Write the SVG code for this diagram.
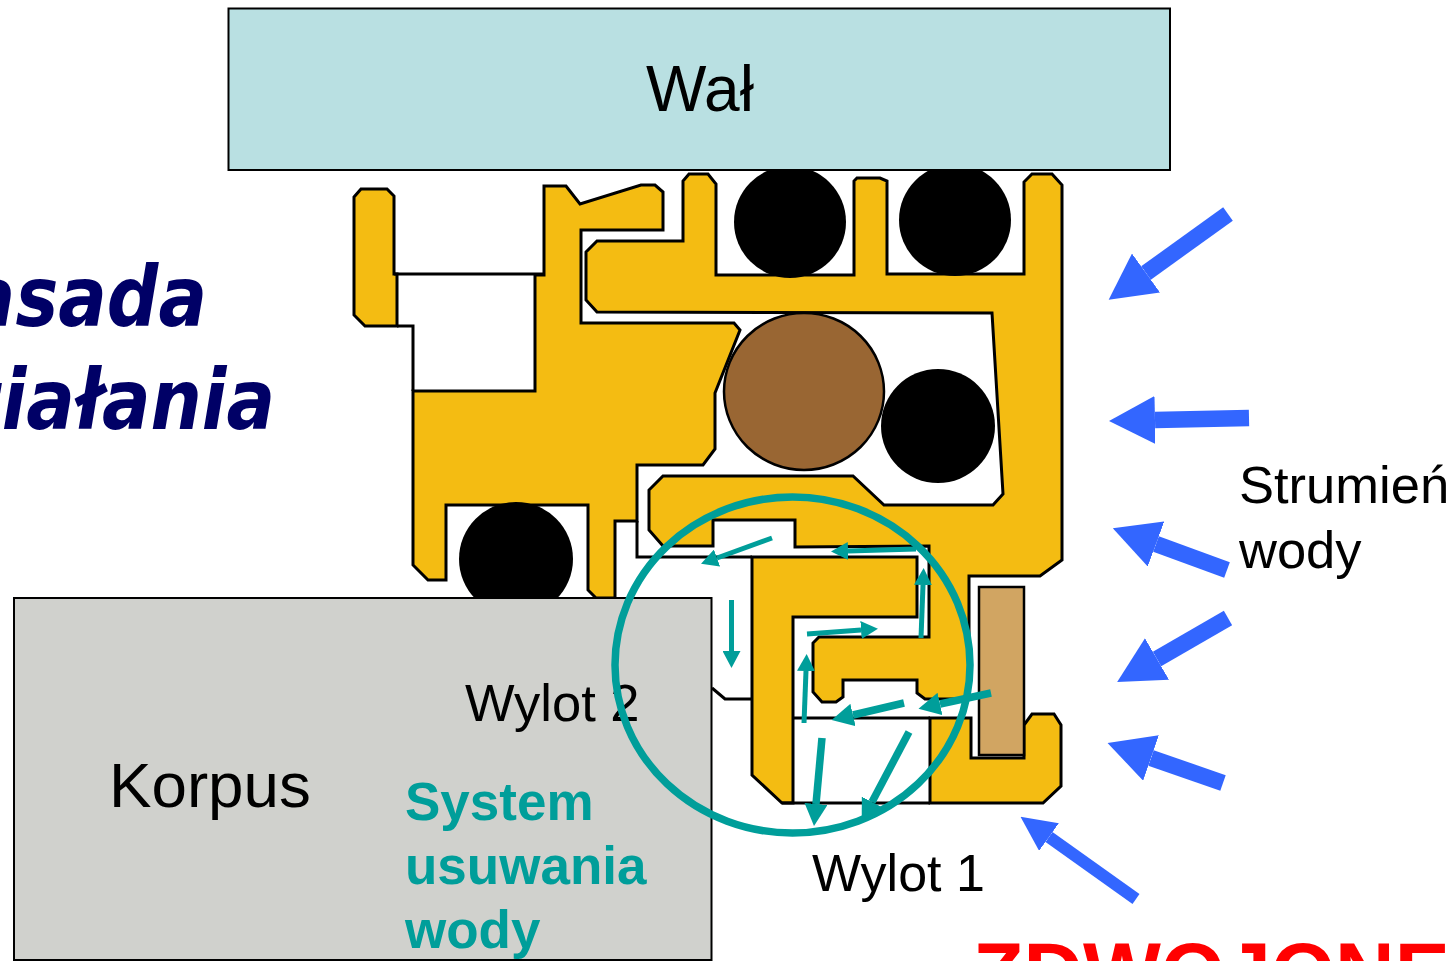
<svg xmlns="http://www.w3.org/2000/svg" width="1455" height="961" viewBox="0 0 1455 961">
<style>
.y{fill:#f4bc12;stroke:#000;stroke-width:3;stroke-linejoin:miter}
.l{fill:none;stroke:#000;stroke-width:3}
.b{fill:#000}
.t{font-family:"Liberation Sans",Arial,sans-serif;fill:#000}
.s{font-family:"Liberation Sans",Arial,sans-serif;font-weight:700;fill:#009e9a;font-size:53px}
.h{font-family:"DejaVu Sans",sans-serif;font-weight:700;font-style:italic;fill:#000066;font-size:72px;text-anchor:end}
.ts{fill:none;stroke:#009e9a;stroke-width:5}
.tl{fill:none;stroke:#009e9a;stroke-width:7.5}
.bl{fill:none;stroke:#3366ff;stroke-width:16.5}
</style>
<defs>
<marker id="ms" viewBox="0 0 17 18" refX="0" refY="9" markerWidth="17" markerHeight="18" markerUnits="userSpaceOnUse" orient="auto"><path d="M0 0L17 9L0 18z" fill="#009e9a"/></marker>
<marker id="ml" viewBox="0 0 22 23" refX="0" refY="11.5" markerWidth="22" markerHeight="23" markerUnits="userSpaceOnUse" orient="auto"><path d="M0 0L22 11.5L0 23z" fill="#009e9a"/></marker>
<marker id="mb" viewBox="0 0 46 48" refX="0" refY="24" markerWidth="46" markerHeight="48" markerUnits="userSpaceOnUse" orient="auto"><path d="M0 0L46 24L0 48z" fill="#3366ff"/></marker>
<marker id="mc" viewBox="0 0 35 34" refX="0" refY="17" markerWidth="35" markerHeight="34" markerUnits="userSpaceOnUse" orient="auto"><path d="M0 0L35 17L0 34z" fill="#3366ff"/></marker>
</defs>
<g id="tytul">
<text class="h" transform="translate(207 326) scale(1 1.16)">Zasada</text>
<text class="h" transform="translate(275 429) scale(1 1.16)">działania</text>
</g>
<g id="uszczelka-lewa">
<polygon class="y" points="354,197 361,189 387,189 394,196 394,274 397,274 397,326 365,326 354,315"/>
<path class="l" d="M394 274H544M397 326H413V391"/>
</g>
<g id="korpus-uszczelki">
<polygon class="y" points="413,391 535,391 535,275 544,275 544,186 566,186 580,204 641,185 655,185 663,192 663,230 581,230 581,323 734,323 740,330 715,393 715,449 703,465 637,465 637,521 615,521 615,598 596,598 588,590 588,505 446,505 446,580 428,580 413,565"/>
<path class="l" d="M637 521V557H752M712 688L725 699H752"/>
</g>
<g id="pierscien-gorny">
<polygon class="y" points="586,252 597,241 683,241 683,181 689,174 708,174 716,184 716,275 854,275 854,181 857,178 880,178 887,181 887,274 1024,274 1024,182 1032,174 1052,174 1062,185 1062,560 1040,576 969,576 969,699 925,699 917,693 917,680 843,680 843,697 836,702 822,702 813,692 813,643 819,637 929,637 929,546 795,547 795,520 713,520 713,546 663,546 649,530 649,490 663,476 853,476 884,505 993,505 1003,494 992,313 597,312 586,300"/>
</g>
<g id="pierscien-l">
<polygon class="y" points="752,557 917,557 917,617 793,617 793,803 782,803 752,775"/>
</g>
<g id="pierscien-dolny">
<polygon class="y" points="930,718 971,718 971,758 1024,758 1024,725 1032,714 1054,714 1061,725 1061,786 1043,803 930,803"/>
<path class="l" d="M793 718H930M782 803H930"/>
</g>
<g id="wkladka">
<rect x="979" y="587" width="45" height="168" fill="#d1a562" stroke="#000" stroke-width="2.500"/>
</g>
<g id="oring-1"><circle class="b" cx="790" cy="222" r="56"/></g>
<g id="oring-2"><circle class="b" cx="955" cy="220" r="56"/></g>
<g id="oring-3"><circle class="b" cx="938" cy="426" r="57"/></g>
<g id="oring-4"><circle class="b" cx="516" cy="559" r="57"/></g>
<g id="pierscien-brazowy">
<ellipse cx="804" cy="391.500" rx="80" ry="78.500" fill="#996633" stroke="#000" stroke-width="2.500"/>
</g>
<g id="wal">
<rect x="228.500" y="8.500" width="941.500" height="161.500" fill="#b9e0e2" stroke="#000" stroke-width="2"/>
<text class="t" x="646" y="111" font-size="64">Wał</text>
</g>
<g id="korpus">
<rect x="14" y="598" width="697.500" height="362" fill="#d0d1cd" stroke="#000" stroke-width="2"/>
<text class="t" x="109" y="807" font-size="63.700">Korpus</text>
<text class="t" x="465" y="721" font-size="52.500">Wylot 2</text>
<text class="s" x="405" y="820">System</text>
<text class="s" x="405" y="884">usuwania</text>
<text class="s" x="405" y="948">wody</text>
</g>
<g id="wylot-1"><text class="t" x="812" y="891" font-size="52">Wylot 1</text></g>
<g id="strumien">
<text class="t" x="1239" y="503" font-size="52.500">Strumień</text>
<text class="t" x="1239" y="568" font-size="52.500">wody</text>
</g>
<g id="zdwojone"><text class="t" x="973" y="1001" font-size="82.500" font-weight="700" style="fill:#ff0000">ZDWOJONE</text></g>
<g id="system-usuwania">
<ellipse cx="792.500" cy="665" rx="177.500" ry="168" fill="none" stroke="#009e9a" stroke-width="7.500"/>
</g>
<g id="connectors">
<line class="ts" x1="772" y1="538" x2="717" y2="558" marker-end="url(#ms)"/>
<line class="ts" x1="916" y1="549" x2="848" y2="551" marker-end="url(#ms)"/>
<line class="ts" x1="731.500" y1="600" x2="731.500" y2="651" marker-end="url(#ms)"/>
<line class="ts" x1="921" y1="638" x2="923" y2="585" marker-end="url(#ms)"/>
<line class="ts" x1="807" y1="634" x2="861" y2="630" marker-end="url(#ms)"/>
<line class="ts" x1="804" y1="723" x2="806" y2="671" marker-end="url(#ms)"/>
<line class="tl" x1="991" y1="693" x2="940" y2="704" marker-end="url(#ml)"/>
<line class="tl" x1="904" y1="703" x2="853" y2="715" marker-end="url(#ml)"/>
<line class="tl" x1="822" y1="738" x2="816" y2="804" marker-end="url(#ml)"/>
<line class="tl" x1="909" y1="732" x2="872" y2="802" marker-end="url(#ml)"/>
<line class="bl" x1="1228" y1="214" x2="1146" y2="273" marker-end="url(#mb)"/>
<line class="bl" x1="1249" y1="418" x2="1155" y2="420" marker-end="url(#mb)"/>
<line class="bl" x1="1227" y1="570" x2="1156" y2="544" marker-end="url(#mb)"/>
<line class="bl" x1="1228" y1="618" x2="1157" y2="659" marker-end="url(#mb)"/>
<line class="bl" x1="1223" y1="783" x2="1151" y2="758" marker-end="url(#mb)"/>
<line class="bl" style="stroke-width:12" x1="1136" y1="899" x2="1049" y2="837" marker-end="url(#mc)"/>
</g>
</svg>
